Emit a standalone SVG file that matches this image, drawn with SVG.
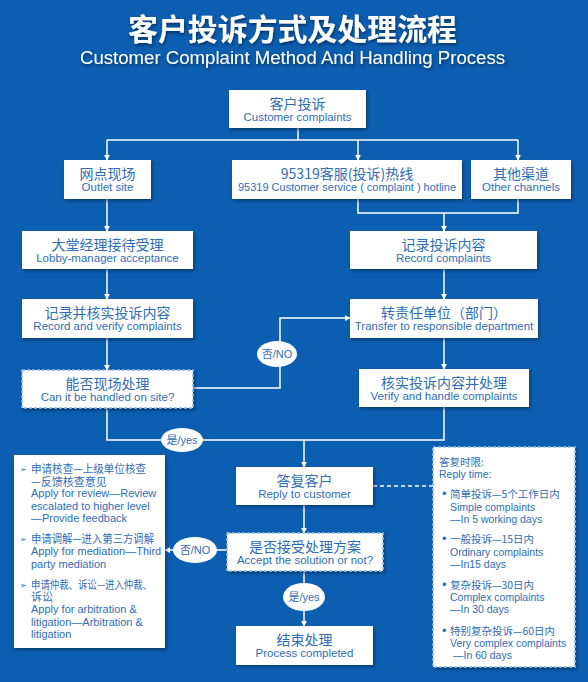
<svg xmlns="http://www.w3.org/2000/svg" width="588" height="682" viewBox="0 0 588 682">
<defs>
<style>
.bg{fill:#0c5eb0}
.box{fill:#ffffff;filter:url(#sh)}
.dbox{fill:#ffffff;stroke:#8fb9e6;stroke-width:1.5;stroke-dasharray:3 2;filter:url(#sh)}
.zh{font-family:"Noto Sans CJK SC","Noto Sans",sans-serif;font-size:14px;fill:#2f6db5;text-anchor:middle}
.en{font-family:"Liberation Sans",Arial,sans-serif;font-size:11.5px;fill:#2f6db5;text-anchor:middle}
.ln{stroke:#ffffff;stroke-width:1.5;fill:none}
.dl{stroke:#ffffff;stroke-width:1.5;fill:none;stroke-dasharray:4 3}
.el{fill:#ffffff}
.lb{font-family:"Liberation Sans","Noto Sans CJK SC",sans-serif;font-size:11px;fill:#2f6db5;text-anchor:middle}
.tz{font-family:"Noto Sans CJK SC","Liberation Sans",sans-serif;font-size:11px;fill:#2f6db5}
.te{font-family:"Liberation Sans",Arial,sans-serif;font-size:11px;fill:#2f6db5}
.rz{font-family:"Noto Sans CJK SC","Liberation Sans",sans-serif;font-size:10.5px;fill:#2f6db5}
.re{font-family:"Liberation Sans",Arial,sans-serif;font-size:10.5px;fill:#2f6db5}
.bu{font-family:"DejaVu Sans",sans-serif;font-size:8px;fill:#2f6db5}
.dot{font-family:"Liberation Sans",sans-serif;font-size:13px;fill:#2f6db5}
</style>
<filter id="sh" x="-10%" y="-10%" width="130%" height="140%">
<feDropShadow dx="1.5" dy="2" stdDeviation="1.5" flood-color="#03264d" flood-opacity="0.6"/>
</filter>
<filter id="tsh" x="-5%" y="-20%" width="110%" height="150%">
<feDropShadow dx="1" dy="2" stdDeviation="1.5" flood-color="#02224a" flood-opacity="0.7"/>
</filter>
<marker id="ar" viewBox="0 0 8 8" refX="7" refY="4" markerWidth="6" markerHeight="6" orient="auto" markerUnits="userSpaceOnUse">
<path d="M0,0 L8,4 L0,8 z" fill="#ffffff"/>
</marker>
</defs>
<rect class="bg" x="0" y="0" width="588" height="682"/>
<g id="title" filter="url(#tsh)">
<text x="292.5" y="40" font-family="'Noto Sans CJK SC',sans-serif" font-size="30" font-weight="bold" fill="#ffffff" text-anchor="middle" textLength="329" lengthAdjust="spacingAndGlyphs">客户投诉方式及处理流程</text>
<text x="292.5" y="64" font-family="'Liberation Sans',Arial,sans-serif" font-size="17.5" fill="#ffffff" text-anchor="middle" textLength="425" lengthAdjust="spacingAndGlyphs">Customer Complaint Method And Handling Process</text>
</g>
<g id="connectors">
<path class="ln" d="M298,128 V140"/>
<path class="ln" d="M107,140 H518"/>
<path class="ln" d="M107,140 V160" marker-end="url(#ar)"/>
<path class="ln" d="M358,140 V160" marker-end="url(#ar)"/>
<path class="ln" d="M518,140 V160" marker-end="url(#ar)"/>
<path class="ln" d="M358,199 V213 H518 V199"/>
<path class="ln" d="M444,213 V231" marker-end="url(#ar)"/>
<path class="ln" d="M107,199 V231" marker-end="url(#ar)"/>
<path class="ln" d="M107,269 V299" marker-end="url(#ar)"/>
<path class="ln" d="M107,338 V370" marker-end="url(#ar)"/>
<path class="ln" d="M444,269 V299" marker-end="url(#ar)"/>
<path class="ln" d="M444,338 V369" marker-end="url(#ar)"/>
<path class="ln" d="M193,388 H280 V318 H350" marker-end="url(#ar)"/>
<path class="ln" d="M107,408 V440 H444 V407"/>
<path class="ln" d="M304,440 V467" marker-end="url(#ar)"/>
<path class="ln" d="M304,505 V533" marker-end="url(#ar)"/>
<path class="ln" d="M227,550 H165" marker-end="url(#ar)"/>
<path class="ln" d="M304,571 V626" marker-end="url(#ar)"/>
<path class="dl" d="M373,486 H433"/>
</g>
<g id="labels">
<g id="lbl-no1"><ellipse class="el" cx="277" cy="354" rx="20" ry="13"/><text class="lb" x="277" y="358">否/NO</text></g>
<g id="lbl-yes1"><ellipse class="el" cx="182" cy="440" rx="21" ry="12"/><text class="lb" x="182" y="444">是/yes</text></g>
<g id="lbl-no2"><ellipse class="el" cx="195" cy="550" rx="22" ry="13"/><text class="lb" x="195" y="554">否/NO</text></g>
<g id="lbl-yes2"><ellipse class="el" cx="304" cy="597" rx="21" ry="14"/><text class="lb" x="304" y="601">是/yes</text></g>
</g>
<g id="n-customer"><rect class="box" x="229" y="90" width="137" height="38"/><text class="zh" x="297.5" y="109">客户投诉</text><text class="en" x="297.5" y="121">Customer complaints</text></g>
<g id="n-outlet"><rect class="box" x="64" y="160" width="87" height="39"/><text class="zh" x="107.5" y="179">网点现场</text><text class="en" x="107.5" y="191">Outlet site</text></g>
<g id="n-hotline"><rect class="box" x="232" y="160" width="230" height="39"/><text class="zh" x="347" y="179">95319客服(投诉)热线</text><text class="en" x="347" y="191" font-size="11" textLength="218" lengthAdjust="spacingAndGlyphs">95319 Customer service ( complaint ) hotline</text></g>
<g id="n-other"><rect class="box" x="471" y="160" width="100" height="39"/><text class="zh" x="521" y="179">其他渠道</text><text class="en" x="521" y="191">Other channels</text></g>
<g id="n-lobby"><rect class="box" x="22" y="231" width="171" height="38"/><text class="zh" x="107.5" y="250">大堂经理接待受理</text><text class="en" x="107.5" y="262">Lobby-manager acceptance</text></g>
<g id="n-record"><rect class="box" x="350" y="231" width="187" height="38"/><text class="zh" x="443.5" y="250">记录投诉内容</text><text class="en" x="443.5" y="262">Record complaints</text></g>
<g id="n-recverify"><rect class="box" x="22" y="299" width="171" height="39"/><text class="zh" x="107.5" y="318">记录并核实投诉内容</text><text class="en" x="107.5" y="330">Record and verify complaints</text></g>
<g id="n-transfer"><rect class="box" x="350" y="299" width="188" height="39"/><text class="zh" x="444" y="318">转责任单位（部门）</text><text class="en" x="444" y="330">Transfer to responsible department</text></g>
<g id="n-onsite"><rect class="dbox" x="22" y="370" width="171" height="38"/><text class="zh" x="107.5" y="389">能否现场处理</text><text class="en" x="107.5" y="401">Can it be handled on site?</text></g>
<g id="n-verify"><rect class="box" x="359" y="369" width="170" height="38"/><text class="zh" x="444" y="388">核实投诉内容并处理</text><text class="en" x="444" y="400">Verify and handle complaints</text></g>
<g id="n-reply"><rect class="box" x="236" y="467" width="137" height="38"/><text class="zh" x="304.5" y="486">答复客户</text><text class="en" x="304.5" y="498">Reply to customer</text></g>
<g id="n-accept"><rect class="dbox" x="227" y="533" width="156" height="38"/><text class="zh" x="305" y="552">是否接受处理方案</text><text class="en" x="305" y="564">Accept the solution or not?</text></g>
<g id="n-done"><rect class="box" x="236" y="626" width="137" height="39"/><text class="zh" x="304.5" y="645">结束处理</text><text class="en" x="304.5" y="657">Process completed</text></g>
<g id="n-options"><rect class="box" x="14" y="455" width="151" height="193"/>
<text class="bu" x="20" y="472">➢</text><text class="tz" x="31" y="473" textLength="115" lengthAdjust="spacingAndGlyphs">申请核查—上级单位核查</text>
<text class="tz" x="31" y="486">—反馈核查意见</text>
<text class="te" x="31" y="497">Apply for review—Review</text>
<text class="te" x="31" y="510">escalated to higher level</text>
<text class="te" x="31" y="522">—Provide feedback</text>
<text class="bu" x="20" y="542">➢</text><text class="tz" x="31" y="543" textLength="123" lengthAdjust="spacingAndGlyphs">申请调解—进入第三方调解</text>
<text class="te" x="31" y="555">Apply for mediation—Third</text>
<text class="te" x="31" y="568">party mediation</text>
<text class="bu" x="20" y="588">➢</text><text class="tz" x="31" y="589" textLength="121" lengthAdjust="spacingAndGlyphs">申请仲裁、诉讼—进入仲裁、</text>
<text class="tz" x="31" y="601">诉讼</text>
<text class="te" x="31" y="613">Apply for arbitration &amp;</text>
<text class="te" x="31" y="626">litigation—Arbitration &amp;</text>
<text class="te" x="31" y="638">litigation</text>
</g>
<g id="n-replytime"><rect class="dbox" x="433" y="447" width="142" height="220"/>
<text class="rz" x="439" y="466">答复时限:</text>
<text class="re" x="439" y="478">Reply time:</text>
<text class="dot" x="442" y="498">•</text><text class="rz" x="450" y="498">简单投诉—5个工作日内</text>
<text class="re" x="450" y="511">Simple complaints</text>
<text class="re" x="450" y="523">—In 5 working days</text>
<text class="dot" x="442" y="543">•</text><text class="rz" x="450" y="543">一般投诉—15日内</text>
<text class="re" x="450" y="556">Ordinary complaints</text>
<text class="re" x="450" y="568">—In15 days</text>
<text class="dot" x="442" y="589">•</text><text class="rz" x="450" y="589">复杂投诉—30日内</text>
<text class="re" x="450" y="601">Complex complaints</text>
<text class="re" x="450" y="613">—In 30 days</text>
<text class="dot" x="442" y="635">•</text><text class="rz" x="450" y="635">特别复杂投诉—60日内</text>
<text class="re" x="450" y="647">Very complex complaints</text>
<text class="re" x="453" y="659">—In 60 days</text>
</g>
</svg>
